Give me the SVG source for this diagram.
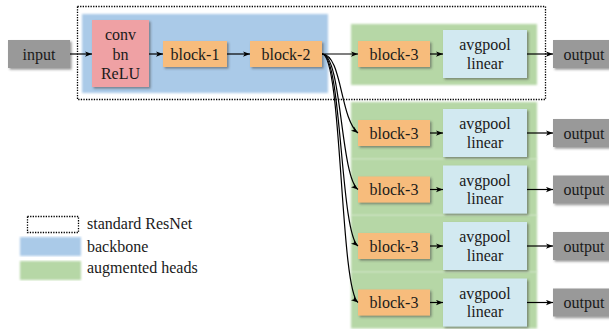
<svg xmlns="http://www.w3.org/2000/svg" width="609" height="329" viewBox="0 0 609 329">
  <style>
    text { font-family: "Liberation Serif", "Times New Roman", serif; font-size: 16px; fill: #1a1a1a; text-anchor: middle; }
    .lg { text-anchor: start; }
    .io { fill: #999999; filter: url(#shadow); }
    .conv { fill: #efa1a4; filter: url(#shadow); }
    .blk { fill: #f7bc7b; filter: url(#shadow); }
    .pool { fill: #d2e9f1; filter: url(#shadow); }
    .backbone { fill: #aacae8; filter: url(#soft); }
    .head { fill: #b6d7a6; filter: url(#soft); }
    .resnet { fill: none; stroke: #000; stroke-width: 1.3; stroke-dasharray: 1.3 1.3; }
    .edge { fill: none; stroke: #000; stroke-width: 1.2; marker-end: url(#arrow); }
  </style>
  <defs>
    <filter id="shadow" x="-10%" y="-10%" width="130%" height="140%">
      <feDropShadow dx="1.6" dy="1.6" stdDeviation="0.8" flood-color="#444" flood-opacity="0.55"/>
    </filter>
    <filter id="soft" x="-5%" y="-5%" width="110%" height="110%">
      <feGaussianBlur stdDeviation="0.8"/>
    </filter>
    <marker id="arrow" viewBox="0 0 8 6" markerUnits="userSpaceOnUse" markerWidth="7" markerHeight="6" refX="8" refY="3" orient="auto">
      <path d="M0,0 L8,3 L0,6 L2,3 z" fill="#000"/>
    </marker>
  </defs>

  <!-- group frames -->
  <rect class="backbone" x="82" y="14" width="246" height="79"/>
  <rect class="head" x="351" y="24" width="186" height="61"/>
  <rect class="head" x="351" y="102" width="186" height="57"/>
  <rect class="head" x="351" y="158.5" width="186" height="57"/>
  <rect class="head" x="351" y="215" width="186" height="57"/>
  <rect class="head" x="351" y="271.5" width="186" height="57"/>
  <rect class="resnet" x="77.5" y="6.5" width="468" height="93"/>

  <!-- backbone -->
  <g id="input">
    <rect class="io" x="8" y="40" width="62" height="28"/>
    <text x="39" y="59.5">input</text>
  </g>
  <g id="stem">
    <rect class="conv" x="92" y="20" width="57" height="67"/>
    <text x="120.5" y="40">conv</text>
    <text x="120.5" y="59.5">bn</text>
    <text x="120.5" y="79">ReLU</text>
  </g>
  <g id="block1">
    <rect class="blk" x="163" y="41" width="64" height="26"/>
    <text x="195" y="59.5">block-1</text>
  </g>
  <g id="block2">
    <rect class="blk" x="250" y="41" width="72" height="26"/>
    <text x="286" y="59.5">block-2</text>
  </g>

  <!-- head 0 (standard) -->
  <g id="head0-block3">
    <rect class="blk" x="358" y="41" width="72" height="26"/>
    <text x="394" y="59.5">block-3</text>
  </g>
  <g id="head0-pool">
    <rect class="pool" x="443" y="30" width="84" height="48"/>
    <text x="485" y="50">avgpool</text>
    <text x="485" y="68.5">linear</text>
  </g>
  <g id="head0-output">
    <rect class="io" x="553" y="40" width="62" height="28"/>
    <text x="584" y="59.5">output</text>
  </g>

  <!-- augmented heads 1-4 -->
  <g id="head1-block3">
    <rect class="blk" x="358" y="120" width="72" height="26"/>
    <text x="394" y="138.5">block-3</text>
  </g>
  <g id="head1-pool">
    <rect class="pool" x="443" y="109" width="84" height="48"/>
    <text x="485" y="129">avgpool</text>
    <text x="485" y="147.5">linear</text>
  </g>
  <g id="head1-output">
    <rect class="io" x="553" y="119" width="62" height="28"/>
    <text x="584" y="138.5">output</text>
  </g>

  <g id="head2-block3">
    <rect class="blk" x="358" y="176.5" width="72" height="26"/>
    <text x="394" y="195">block-3</text>
  </g>
  <g id="head2-pool">
    <rect class="pool" x="443" y="165.5" width="84" height="48"/>
    <text x="485" y="185.5">avgpool</text>
    <text x="485" y="204">linear</text>
  </g>
  <g id="head2-output">
    <rect class="io" x="553" y="175.5" width="62" height="28"/>
    <text x="584" y="195">output</text>
  </g>

  <g id="head3-block3">
    <rect class="blk" x="358" y="233" width="72" height="26"/>
    <text x="394" y="251.5">block-3</text>
  </g>
  <g id="head3-pool">
    <rect class="pool" x="443" y="222" width="84" height="48"/>
    <text x="485" y="242">avgpool</text>
    <text x="485" y="260.5">linear</text>
  </g>
  <g id="head3-output">
    <rect class="io" x="553" y="232" width="62" height="28"/>
    <text x="584" y="251.5">output</text>
  </g>

  <g id="head4-block3">
    <rect class="blk" x="358" y="289.5" width="72" height="26"/>
    <text x="394" y="308">block-3</text>
  </g>
  <g id="head4-pool">
    <rect class="pool" x="443" y="278.5" width="84" height="48"/>
    <text x="485" y="298.5">avgpool</text>
    <text x="485" y="317">linear</text>
  </g>
  <g id="head4-output">
    <rect class="io" x="553" y="288.5" width="62" height="28"/>
    <text x="584" y="308">output</text>
  </g>

  <!-- connectors -->
  <g id="connectors">
    <path class="edge" d="M70,54 H92"/>
    <path class="edge" d="M149,54 H163"/>
    <path class="edge" d="M227,54 H250"/>
    <path class="edge" d="M322,54 H358"/>
    <path class="edge" d="M430,54 H443"/>
    <path class="edge" d="M527,54 H553"/>

    <path class="edge" d="M322,54 C342,54 340,119 358,133"/>
    <path class="edge" d="M322,54 C342,54 340,175.5 358,189.5"/>
    <path class="edge" d="M322,54 C342,54 340,232 358,246"/>
    <path class="edge" d="M322,54 C342,54 340,288.5 358,302.5"/>

    <path class="edge" d="M430,133 H443"/>
    <path class="edge" d="M527,133 H553"/>
    <path class="edge" d="M430,189.5 H443"/>
    <path class="edge" d="M527,189.5 H553"/>
    <path class="edge" d="M430,246 H443"/>
    <path class="edge" d="M527,246 H553"/>
    <path class="edge" d="M430,302.5 H443"/>
    <path class="edge" d="M527,302.5 H553"/>
  </g>

  <!-- legend -->
  <g id="legend">
    <rect class="resnet" x="27.5" y="216.5" width="51" height="16"/>
    <rect class="backbone" x="20" y="237" width="61" height="19"/>
    <rect class="head" x="20" y="261" width="61" height="19"/>
    <text class="lg" x="87" y="229">standard ResNet</text>
    <text class="lg" x="87" y="252">backbone</text>
    <text class="lg" x="87" y="273">augmented heads</text>
  </g>
</svg>
